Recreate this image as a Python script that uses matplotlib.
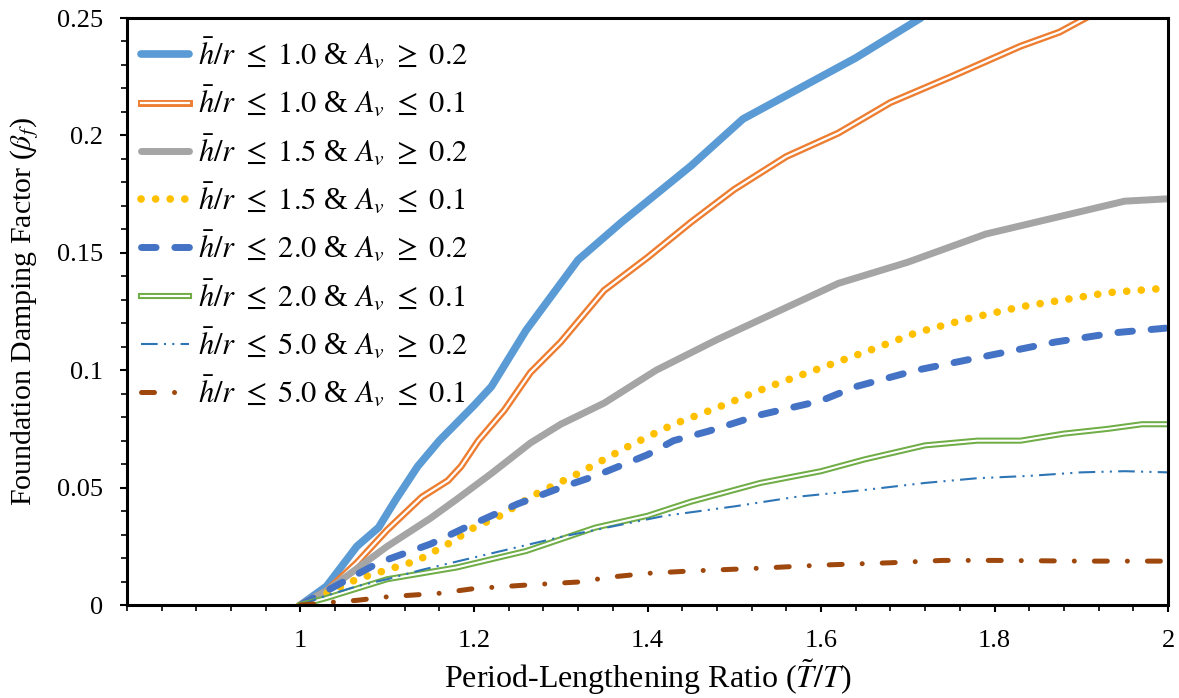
import numpy as np
import matplotlib
matplotlib.use('Agg')
import matplotlib.pyplot as plt
from matplotlib.ticker import MultipleLocator, FixedLocator, FuncFormatter
from matplotlib.legend_handler import HandlerTuple

plt.rcParams['font.family'] = ['Liberation Serif', 'DejaVu Serif']
plt.rcParams['mathtext.fontset'] = 'stix'

# datos (T~/T vs beta_f)
x_b1 = [1.0, 1.03, 1.065, 1.09, 1.11, 1.135, 1.16, 1.2, 1.22, 1.26, 1.32, 1.37, 1.45, 1.51, 1.55, 1.64, 1.715]
y_b1 = [0, 0.008, 0.025, 0.033, 0.045, 0.059, 0.070, 0.085, 0.093, 0.117, 0.147, 0.163, 0.187, 0.207, 0.215, 0.233, 0.25]

x_o1 = [1.0, 1.03, 1.065, 1.10, 1.14, 1.17, 1.185, 1.205, 1.235, 1.265, 1.3, 1.35, 1.40, 1.45, 1.5, 1.56, 1.62, 1.68, 1.75, 1.83, 1.875, 1.905]
y_o1 = [0, 0.006, 0.018, 0.032, 0.046, 0.053, 0.059, 0.070, 0.083, 0.099, 0.112, 0.134, 0.148, 0.163, 0.177, 0.191, 0.201, 0.214, 0.225, 0.238, 0.244, 0.25]

x_g15 = [1.0, 1.03, 1.1, 1.15, 1.18, 1.22, 1.265, 1.3, 1.35, 1.41, 1.48, 1.55, 1.62, 1.7, 1.79, 1.87, 1.95, 2.0]
y_g15 = [0, 0.006, 0.025, 0.037, 0.045, 0.056, 0.069, 0.077, 0.086, 0.100, 0.113, 0.125, 0.137, 0.146, 0.158, 0.165, 0.172, 0.173]

x_y15 = [1.0, 1.03, 1.065, 1.1, 1.135, 1.17, 1.2, 1.23, 1.27, 1.32, 1.38, 1.43, 1.48, 1.54, 1.6, 1.66, 1.71, 1.77, 1.83, 1.88, 1.93, 2.0]
y_y15 = [0, 0.005, 0.011, 0.015, 0.019, 0.026, 0.033, 0.038, 0.047, 0.056, 0.068, 0.077, 0.084, 0.093, 0.101, 0.109, 0.116, 0.122, 0.127, 0.130, 0.133, 0.135]

x_b2 = [1.0, 1.03, 1.09, 1.15, 1.19, 1.25, 1.3, 1.34, 1.4, 1.43, 1.47, 1.53, 1.6, 1.64, 1.71, 1.79, 1.87, 1.94, 2.0]
y_b2 = [0, 0.006, 0.018, 0.026, 0.033, 0.043, 0.050, 0.055, 0.064, 0.070, 0.074, 0.081, 0.087, 0.093, 0.100, 0.106, 0.112, 0.116, 0.118]

x_v2 = [1.0, 1.03, 1.1, 1.18, 1.26, 1.3, 1.34, 1.4, 1.45, 1.53, 1.6, 1.65, 1.72, 1.78, 1.83, 1.88, 1.93, 1.97, 2.0]
y_v2 = [0, 0.003, 0.011, 0.016, 0.023, 0.028, 0.033, 0.038, 0.044, 0.052, 0.057, 0.062, 0.068, 0.070, 0.070, 0.073, 0.075, 0.077, 0.077]

x_b5 = [1.0, 1.03, 1.065, 1.1, 1.14, 1.22, 1.3, 1.34, 1.42, 1.5, 1.57, 1.65, 1.72, 1.78, 1.84, 1.9, 1.95, 2.0]
y_b5 = [0, 0.004, 0.008, 0.011, 0.015, 0.022, 0.029, 0.032, 0.038, 0.042, 0.046, 0.049, 0.052, 0.054, 0.055, 0.0565, 0.057, 0.0565]

x_m5 = [1.0, 1.03, 1.065, 1.1, 1.16, 1.2, 1.26, 1.32, 1.36, 1.4, 1.45, 1.53, 1.6, 1.68, 1.74, 1.8, 1.9, 2.0]
y_m5 = [0, 0.001, 0.002, 0.0035, 0.005, 0.007, 0.0085, 0.0098, 0.012, 0.0135, 0.0145, 0.0157, 0.017, 0.018, 0.019, 0.019, 0.0187, 0.0187]

etiquetas = [
    r'$\bar{h}/r\ \leq\ 1.0$ & $A_v\ \geq\ 0.2$',
    r'$\bar{h}/r\ \leq\ 1.0$ & $A_v\ \leq\ 0.1$',
    r'$\bar{h}/r\ \leq\ 1.5$ & $A_v\ \geq\ 0.2$',
    r'$\bar{h}/r\ \leq\ 1.5$ & $A_v\ \leq\ 0.1$',
    r'$\bar{h}/r\ \leq\ 2.0$ & $A_v\ \geq\ 0.2$',
    r'$\bar{h}/r\ \leq\ 2.0$ & $A_v\ \leq\ 0.1$',
    r'$\bar{h}/r\ \leq\ 5.0$ & $A_v\ \geq\ 0.2$',
    r'$\bar{h}/r\ \leq\ 5.0$ & $A_v\ \leq\ 0.1$',
]

fig = plt.figure(figsize=(11.79, 6.98), dpi=100)
ax = fig.add_axes([0.1077, 0.1332, 0.883, 0.841])

h1, = ax.plot(x_b1, y_b1, color='#5B9BD5', lw=5.5, solid_capstyle='round', solid_joinstyle='round')

h2a, = ax.plot(x_o1, y_o1, color='#ED7D31', lw=5.0, solid_joinstyle='round')
h2b, = ax.plot(x_o1, y_o1, color='white', lw=1.6, solid_joinstyle='round')

h3, = ax.plot(x_g15, y_g15, color='#A5A5A5', lw=5.0, solid_capstyle='round', solid_joinstyle='round')

h4, = ax.plot(x_y15, y_y15, color='#FFC000', lw=5.5, dash_capstyle='round')
h4.set_dashes((0.01, 1.9))

h5, = ax.plot(x_b2, y_b2, color='#4472C4', lw=5.0, dash_capstyle='round')
h5.set_dashes((2.1, 2.7))

h6a, = ax.plot(x_v2, y_v2, color='#70AD47', lw=4.4, solid_joinstyle='round')
h6b, = ax.plot(x_v2, y_v2, color='white', lw=1.5, solid_joinstyle='round')

h7, = ax.plot(x_b5, y_b5, color='#2E75B6', lw=1.5)
h7.set_dashes((8, 3, 1, 3, 1, 3))

h8, = ax.plot(x_m5, y_m5, color='#9E480E', lw=3.6, dash_capstyle='round')
h8.set_dashes((2.6, 4, 0.01, 4))

ax.set_xlim(0.8, 2.0)
ax.set_ylim(0, 0.25)

ax.xaxis.set_major_locator(FixedLocator([1.0, 1.2, 1.4, 1.6, 1.8, 2.0]))
ax.xaxis.set_minor_locator(FixedLocator(np.arange(0.8, 2.001, 0.04)))
ax.yaxis.set_major_locator(MultipleLocator(0.05))
ax.yaxis.set_minor_locator(MultipleLocator(0.01))
fmt = FuncFormatter(lambda v, p: '%g' % round(v, 3))
ax.xaxis.set_major_formatter(fmt)
ax.yaxis.set_major_formatter(fmt)

ax.tick_params(which='major', direction='out', length=5, width=1.5, labelsize=19)
ax.tick_params(which='minor', direction='out', length=4, width=1.2)
ax.tick_params(axis='x', which='major', pad=13)
ax.tick_params(axis='y', which='major', pad=12)

for s in ax.spines.values():
    s.set_linewidth(2.2)
    s.set_color('black')

ax.set_xlabel(r'Period-Lengthening Ratio ($\tilde{T}/T$)', fontsize=23, labelpad=4)
ax.set_ylabel(r'Foundation Damping Factor ($\beta_f$)', fontsize=21.5, labelpad=12)

handles = [h1, (h2a, h2b), h3, h4, h5, (h6a, h6b), h7, h8]
leg = ax.legend(handles, etiquetas, loc='upper left', bbox_to_anchor=(0.0, 0.9915),
                frameon=False, fontsize=22, handlelength=1.57, handletextpad=0.3,
                labelspacing=0.43, borderaxespad=0.35, borderpad=0.1,
                handler_map={tuple: HandlerTuple(ndivide=1, pad=0)})

fig.savefig('out.png', dpi=100)
